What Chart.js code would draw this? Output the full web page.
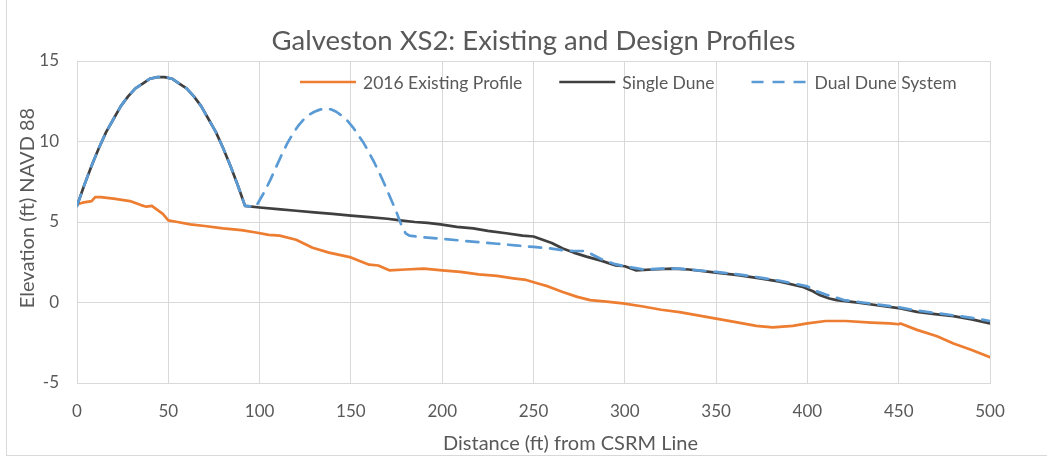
<!DOCTYPE html>
<html>
<head>
<meta charset="utf-8">
<title>Galveston XS2: Existing and Design Profiles</title>
<script src="https://cdn.jsdelivr.net/npm/chart.js"></script>
<style>
  body { margin: 0; background: #fff; }
  #frame {
    position: absolute; left: 6px; top: 0; width: 1041px; height: 456px;
    border-left: 1px solid #d9d9d9; border-bottom: 1px solid #d9d9d9; box-sizing: border-box;
  }
  #wrap { position: absolute; left: 0; top: 0; width: 1047px; height: 457px; }
</style>
</head>
<body>
<div id="frame"></div>
<div id="wrap"><canvas id="profileChart"></canvas></div>

<script>
// surveyed 2016 profile
const existingDist = [0, 3, 8, 10, 13, 20, 29, 35, 38, 41, 44, 47, 50, 55, 62, 70, 80, 90, 98, 105, 111, 120, 129,
  138, 150, 160, 165, 171, 180, 190, 200, 210, 220, 230, 239, 246, 252, 258, 266, 274, 281, 290, 299, 310, 320,
  330, 340, 350, 360, 372, 381, 392, 400, 410, 421, 435, 445, 450, 451, 460, 471, 480, 490, 500];
const existingElev = [6.1, 6.2, 6.3, 6.55, 6.55, 6.45, 6.3, 6.05, 5.95, 6.0, 5.75, 5.5, 5.1, 5.0, 4.85, 4.75, 4.6,
  4.5, 4.35, 4.2, 4.15, 3.9, 3.4, 3.1, 2.8, 2.35, 2.3, 2.0, 2.05, 2.1, 2.0, 1.9, 1.75, 1.65, 1.5, 1.4, 1.2, 1.0,
  0.65, 0.35, 0.15, 0.05, -0.05, -0.25, -0.45, -0.6, -0.8, -1.0, -1.2, -1.45, -1.55, -1.45, -1.3, -1.15, -1.15,
  -1.25, -1.3, -1.35, -1.3, -1.7, -2.1, -2.55, -2.95, -3.4];

// landward dune, shared by both designs
const frontDuneDist = [0, 4, 8, 12, 16, 20, 24, 28, 32, 36, 40, 44, 46, 48, 52, 56, 60, 64, 68, 72, 76, 80, 84, 88, 92];
const frontDuneElev = [6.0, 7.3, 8.5, 9.6, 10.6, 11.4, 12.2, 12.8, 13.3, 13.6, 13.9, 14.0, 14.0, 14.0, 13.9, 13.6,
  13.3, 12.8, 12.2, 11.4, 10.6, 9.6, 8.5, 7.3, 6.0];

// single dune: berm and slope seaward of the dune
const singleDist = [100, 110, 120, 130, 140, 150, 160, 170, 177, 185, 192, 199, 208, 217, 225, 235, 244, 250, 255,
  260, 266, 272, 279, 287, 295, 300, 306, 315, 326, 335, 350, 362, 374, 385, 398, 403, 407, 412, 416, 429, 440,
  451, 460, 470, 480, 490, 500];
const singleElev = [5.9, 5.8, 5.7, 5.6, 5.5, 5.4, 5.3, 5.2, 5.1, 5.0, 4.95, 4.85, 4.7, 4.6, 4.45, 4.3, 4.15, 4.1,
  3.9, 3.7, 3.35, 3.1, 2.85, 2.6, 2.3, 2.25, 2.0, 2.05, 2.1, 2.05, 1.85, 1.7, 1.5, 1.3, 0.95, 0.7, 0.45, 0.25, 0.15,
  -0.02, -0.2, -0.37, -0.58, -0.72, -0.85, -1.05, -1.3];

// dual dune: second dune, then berm and slope
const dualDist = [95, 98, 100, 103, 106, 109, 112, 115, 118, 121, 124, 127, 130, 133, 136, 139, 142, 145, 148, 151,
  154, 157, 160, 163, 166, 169, 172, 175, 178, 180, 182, 190, 200, 210, 220, 230, 240, 250, 260, 266, 272, 278,
  281, 287, 294, 300, 305, 310, 320, 330, 340, 350, 362, 374, 385, 396, 400, 405, 410, 416, 420, 430, 440, 450,
  460, 470, 480, 490, 500];
const dualElev = [5.97, 5.95, 6.35, 6.95, 7.65, 8.4, 9.15, 9.85, 10.45, 10.95, 11.35, 11.65, 11.85, 11.98, 12.03,
  12.0, 11.85, 11.6, 11.3, 10.9, 10.4, 9.9, 9.3, 8.65, 7.95, 7.2, 6.4, 5.6, 4.7, 4.3, 4.15, 4.05, 3.95, 3.85, 3.75,
  3.65, 3.55, 3.45, 3.35, 3.25, 3.2, 3.2, 3.05, 2.7, 2.4, 2.25, 2.15, 2.05, 2.1, 2.1, 2.0, 1.9, 1.75, 1.55, 1.35,
  1.1, 1.0, 0.7, 0.5, 0.3, 0.15, 0.0, -0.15, -0.3, -0.5, -0.65, -0.8, -0.95, -1.15];

const xTicks = [0, 50, 100, 150, 200, 250, 300, 350, 400, 450, 500];
const yTicks = [-5, 0, 5, 10, 15];

const chartTitle = 'Galveston XS2: Existing and Design Profiles';
const xTitle = 'Distance (ft) from CSRM Line';
const yTitle = 'Elevation (ft) NAVD 88';

const textColor = '#595959';
const gridColor = '#d9d9d9';
const fontFamily = 'Lato, "Open Sans", sans-serif';

function toPoints(xs, ys) {
  return xs.map((x, i) => ({ x: x, y: ys[i] }));
}

// titles and legend are drawn by hand so they sit where the layout needs them
const profileText = {
  id: 'profileText',
  afterDatasetsDraw(chart) {
    const { ctx, chartArea } = chart;
    const mid = (chartArea.left + chartArea.right) / 2;
    ctx.save();
    ctx.fillStyle = textColor;
    ctx.textAlign = 'center';
    ctx.textBaseline = 'alphabetic';

    ctx.font = '27.5px ' + fontFamily;
    ctx.fillText(chartTitle, mid, 50);

    ctx.font = '20px ' + fontFamily;
    ctx.fillText(xTitle, mid + 37, 450);

    ctx.save();
    ctx.translate(34, 208);
    ctx.rotate(-Math.PI / 2);
    ctx.fillText(yTitle, 0, 0);
    ctx.restore();

    // legend
    ctx.font = '17.5px ' + fontFamily;
    ctx.textAlign = 'left';
    ctx.textBaseline = 'middle';
    let x = chartArea.left + 223;
    const y = chartArea.top + 21;
    chart.data.datasets.forEach(ds => {
      ctx.strokeStyle = ds.borderColor;
      ctx.lineWidth = ds.borderWidth;
      ctx.setLineDash(ds.borderDash || []);
      ctx.beginPath();
      ctx.moveTo(x, y);
      ctx.lineTo(x + 56, y);
      ctx.stroke();
      ctx.setLineDash([]);
      ctx.fillText(ds.label, x + 63, y + 1);
      x += 63 + ctx.measureText(ds.label).width + 37;
    });
    ctx.restore();
  }
};

const ctx = document.getElementById('profileChart').getContext('2d');
const profileChart = new Chart(ctx, {
  type: 'line',
  data: {
    datasets: [{
      label: '2016 Existing Profile',
      data: toPoints(existingDist, existingElev),
      borderColor: '#ED7D31',
      borderWidth: 2.7,
      order: 3
    }, {
      label: 'Single Dune',
      data: toPoints(frontDuneDist.concat(singleDist), frontDuneElev.concat(singleElev)),
      borderColor: '#404040',
      borderWidth: 2.7,
      order: 2
    }, {
      label: 'Dual Dune System',
      data: toPoints(frontDuneDist.concat(dualDist), frontDuneElev.concat(dualElev)),
      borderColor: '#5B9BD5',
      borderWidth: 2.7,
      borderDash: [12, 9],
      order: 1
    }]
  },
  options: {
    responsive: true,
    maintainAspectRatio: false,
    animation: false,
    layout: { padding: { left: 0, right: 57, top: 61, bottom: 0 } },
    elements: {
      point: { radius: 0 },
      line: { tension: 0, borderJoinStyle: 'round', borderCapStyle: 'round' }
    },
    plugins: {
      legend: { display: false },
      title: { display: false },
      tooltip: { enabled: false }
    },
    scales: {
      x: {
        type: 'linear',
        min: 0,
        max: 500,
        afterBuildTicks(scale) { scale.ticks = xTicks.map(v => ({ value: v })); },
        afterFit(scale) { scale.height = 74; },
        ticks: { color: textColor, font: { family: fontFamily, size: 17 }, padding: 18, maxRotation: 0 },
        grid: { color: gridColor, drawTicks: false },
        border: { color: gridColor }
      },
      y: {
        min: -5,
        max: 15,
        afterBuildTicks(scale) { scale.ticks = yTicks.map(v => ({ value: v })); },
        afterFit(scale) { scale.width = 77; },
        ticks: { color: textColor, font: { family: fontFamily, size: 17 }, padding: 18 },
        grid: { color: gridColor, drawTicks: false },
        border: { color: gridColor }
      }
    }
  },
  plugins: [profileText]
});
</script>
</body>
</html>
